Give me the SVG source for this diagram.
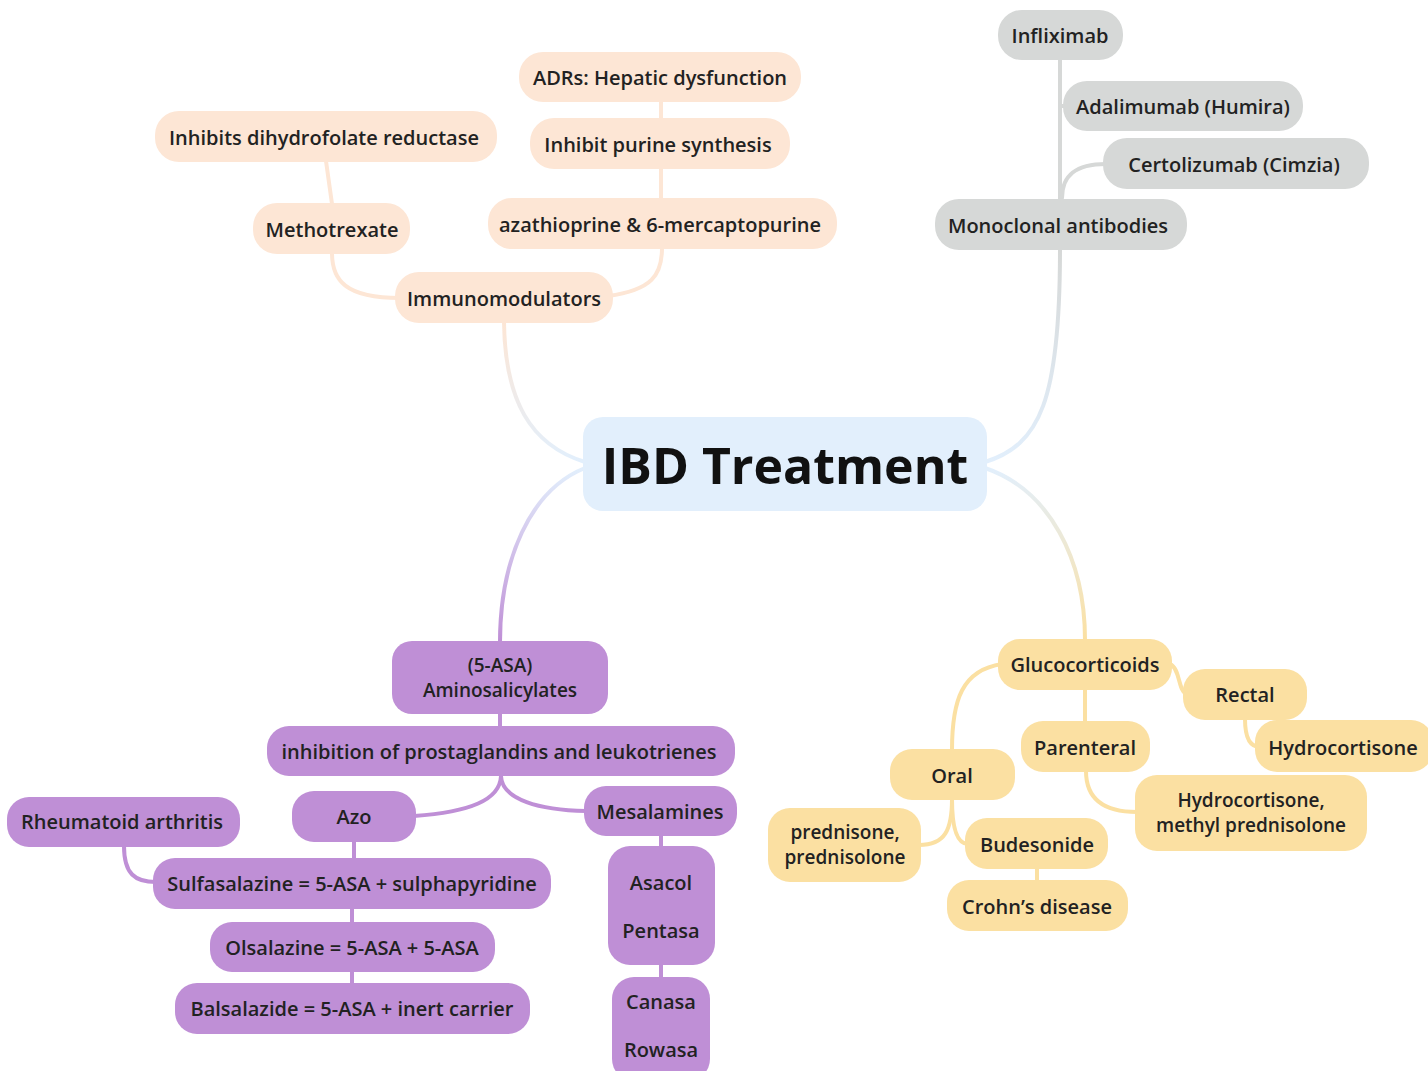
<svg xmlns="http://www.w3.org/2000/svg" width="1428" height="1071" viewBox="0 0 1428 1071">
<style>
  text { font-family: "Open Sans", "Noto Sans", "Liberation Sans", sans-serif; font-size: 20px; font-weight: 600; fill: #222; text-anchor: middle; dominant-baseline: central; }
  .two { font-size: 19px; }
  .title { font-size: 50px; font-weight: bold; fill: #111; }
  .peach rect { fill: #fde6d5; }
  .gray rect { fill: #d6d8d7; }
  .purple rect { fill: #bf8fd6; }
  .yellow rect { fill: #fbe0a2; }
  .center rect { fill: #e2effc; }
  .c { fill: none; stroke-width: 4; stroke-linecap: round; }
  .cp { stroke: #fde6d5; }
  .cg { stroke: #d6d8d7; }
  .cu { stroke: #bf8fd6; }
  .cy { stroke: #fbe0a2; }
</style>
<defs>
  <linearGradient id="gPeach" x1="0" y1="1" x2="0" y2="0"><stop offset="0" stop-color="#e2effc"/><stop offset="1" stop-color="#fde6d5"/></linearGradient>
  <linearGradient id="gGray" x1="0" y1="1" x2="0" y2="0"><stop offset="0" stop-color="#e2effc"/><stop offset="1" stop-color="#d6d8d7"/></linearGradient>
  <linearGradient id="gPurple" x1="0" y1="0" x2="0" y2="1"><stop offset="0" stop-color="#e2effc"/><stop offset="1" stop-color="#bf8fd6"/></linearGradient>
  <linearGradient id="gYellow" x1="0" y1="0" x2="0" y2="1"><stop offset="0" stop-color="#e2effc"/><stop offset="1" stop-color="#fbe0a2"/></linearGradient>
</defs>
<rect width="1428" height="1071" fill="#ffffff"/>
<g id="connectors">
  <path class="c" stroke="url(#gPeach)" d="M 585 462 C 530 445 505 400 504 322"/>
  <path class="c" stroke="url(#gGray)" d="M 985 462 C 1040 445 1060 400 1060 250"/>
  <path class="c" stroke="url(#gPurple)" d="M 585 468 C 530 490 500 560 500 642"/>
  <path class="c" stroke="url(#gYellow)" d="M 985 468 C 1050 490 1085 560 1085 640"/>
  <path class="c cp" d="M 400 298 C 345 298 332 280 332 253"/>
  <path class="c cp" d="M 608 296 C 652 290 662 275 662 248"/>
  <path class="c cp" d="M 332 204 L 326 161"/>
  <path class="c cp" d="M 661 199 L 661 168"/>
  <path class="c cp" d="M 661 119 L 661 101"/>
  <path class="c cg" d="M 1060 200 L 1060 58"/>
  <path class="c cg" d="M 1060 106 L 1066 106"/>
  <path class="c cg" d="M 1062 198 C 1062 176 1075 164 1106 164"/>
  <path class="c cu" d="M 500 713 L 500 727"/>
  <path class="c cu" d="M 501 776 C 500 800 470 812 414 816"/>
  <path class="c cu" d="M 501 776 C 502 800 540 810 586 811"/>
  <path class="c cu" d="M 354 841 L 354 859"/>
  <path class="c cu" d="M 124 846 C 124 874 135 882 156 882"/>
  <path class="c cu" d="M 352 908 L 352 923"/>
  <path class="c cu" d="M 352 971 L 352 984"/>
  <path class="c cu" d="M 661 835 L 661 847"/>
  <path class="c cu" d="M 661 964 L 661 978"/>
  <path class="c cy" d="M 1002 664 C 962 670 952 700 952 750"/>
  <path class="c cy" d="M 1170 664 C 1180 668 1178 690 1186 694"/>
  <path class="c cy" d="M 1085 689 L 1085 722"/>
  <path class="c cy" d="M 1086 771 C 1086 800 1105 812 1137 812"/>
  <path class="c cy" d="M 1245 719 C 1245 738 1250 747 1260 747"/>
  <path class="c cy" d="M 952 799 C 952 830 945 845 919 845"/>
  <path class="c cy" d="M 952 799 C 952 830 958 844 968 844"/>
  <path class="c cy" d="M 1037 868 L 1037 881"/>
</g>
<g id="n-center" class="center"><rect x="583" y="417" width="404" height="94" rx="20"/><text class="title" x="785" y="465">IBD Treatment</text></g>
<g id="n-immuno" class="peach"><rect x="395" y="272" width="218" height="51" rx="24"/><text x="504" y="298">Immunomodulators</text></g>
<g id="n-methotrexate" class="peach"><rect x="253" y="203" width="157" height="51" rx="24"/><text x="332" y="229">Methotrexate</text></g>
<g id="n-dihydrofolate" class="peach"><rect x="155" y="111" width="342" height="51" rx="24"/><text x="324" y="137">Inhibits dihydrofolate reductase</text></g>
<g id="n-azathioprine" class="peach"><rect x="488" y="198" width="349" height="51" rx="24"/><text x="660" y="224">azathioprine &amp; 6-mercaptopurine</text></g>
<g id="n-purine" class="peach"><rect x="530" y="118" width="260" height="51" rx="24"/><text x="658" y="144">Inhibit purine synthesis</text></g>
<g id="n-adrs" class="peach"><rect x="519" y="52" width="282" height="50" rx="24"/><text x="660" y="77">ADRs: Hepatic dysfunction</text></g>
<g id="n-monoclonal" class="gray"><rect x="935" y="199" width="252" height="51" rx="24"/><text x="1058" y="225">Monoclonal antibodies</text></g>
<g id="n-infliximab" class="gray"><rect x="998" y="10" width="125" height="50" rx="24"/><text x="1060" y="35">Infliximab</text></g>
<g id="n-adalimumab" class="gray"><rect x="1063" y="81" width="240" height="50" rx="24"/><text x="1183" y="106">Adalimumab (Humira)</text></g>
<g id="n-certolizumab" class="gray"><rect x="1103" y="138" width="266" height="51" rx="24"/><text x="1234" y="164">Certolizumab (Cimzia)</text></g>
<g id="n-5asa" class="purple"><rect x="392" y="641" width="216" height="73" rx="20"/><text class="two" x="500" y="665">(5-ASA)</text><text class="two" x="500" y="690">Aminosalicylates</text></g>
<g id="n-inhibition" class="purple"><rect x="267" y="726" width="468" height="50" rx="22"/><text x="499" y="751">inhibition of prostaglandins and leukotrienes</text></g>
<g id="n-azo" class="purple"><rect x="292" y="791" width="124" height="51" rx="22"/><text x="354" y="816">Azo</text></g>
<g id="n-rheumatoid" class="purple"><rect x="7" y="797" width="233" height="50" rx="22"/><text x="122" y="821">Rheumatoid arthritis</text></g>
<g id="n-mesalamines" class="purple"><rect x="584" y="786" width="153" height="50" rx="22"/><text x="660" y="811">Mesalamines</text></g>
<g id="n-sulfasalazine" class="purple"><rect x="153" y="858" width="398" height="51" rx="22"/><text x="352" y="883">Sulfasalazine = 5-ASA + sulphapyridine</text></g>
<g id="n-olsalazine" class="purple"><rect x="210" y="922" width="285" height="50" rx="22"/><text x="352" y="947">Olsalazine = 5-ASA + 5-ASA</text></g>
<g id="n-balsalazide" class="purple"><rect x="175" y="983" width="355" height="51" rx="22"/><text x="352" y="1008">Balsalazide = 5-ASA + inert carrier</text></g>
<g id="n-asacol" class="purple"><rect x="608" y="846" width="107" height="119" rx="22"/><text x="661" y="882">Asacol</text><text x="661" y="930">Pentasa</text></g>
<g id="n-canasa" class="purple"><rect x="612" y="977" width="98" height="104" rx="22"/><text x="661" y="1001">Canasa</text><text x="661" y="1049">Rowasa</text></g>
<g id="n-gluco" class="yellow"><rect x="998" y="639" width="174" height="51" rx="22"/><text x="1085" y="664">Glucocorticoids</text></g>
<g id="n-rectal" class="yellow"><rect x="1183" y="669" width="124" height="51" rx="22"/><text x="1245" y="694">Rectal</text></g>
<g id="n-parenteral" class="yellow"><rect x="1021" y="721" width="129" height="51" rx="22"/><text x="1085" y="747">Parenteral</text></g>
<g id="n-hydrocortisone" class="yellow"><rect x="1255" y="720" width="178" height="52" rx="22"/><text x="1343" y="747">Hydrocortisone</text></g>
<g id="n-oral" class="yellow"><rect x="890" y="749" width="125" height="51" rx="22"/><text x="952" y="775">Oral</text></g>
<g id="n-hydro-methyl" class="yellow"><rect x="1135" y="775" width="232" height="76" rx="22"/><text class="two" x="1251" y="800">Hydrocortisone,</text><text class="two" x="1251" y="825">methyl prednisolone</text></g>
<g id="n-prednisone" class="yellow"><rect x="768" y="808" width="153" height="74" rx="22"/><text class="two" x="845" y="832">prednisone,</text><text class="two" x="845" y="857">prednisolone</text></g>
<g id="n-budesonide" class="yellow"><rect x="965" y="818" width="143" height="51" rx="22"/><text x="1037" y="844">Budesonide</text></g>
<g id="n-crohns" class="yellow"><rect x="947" y="880" width="181" height="51" rx="22"/><text x="1037" y="906">Crohn’s disease</text></g>
</svg>
